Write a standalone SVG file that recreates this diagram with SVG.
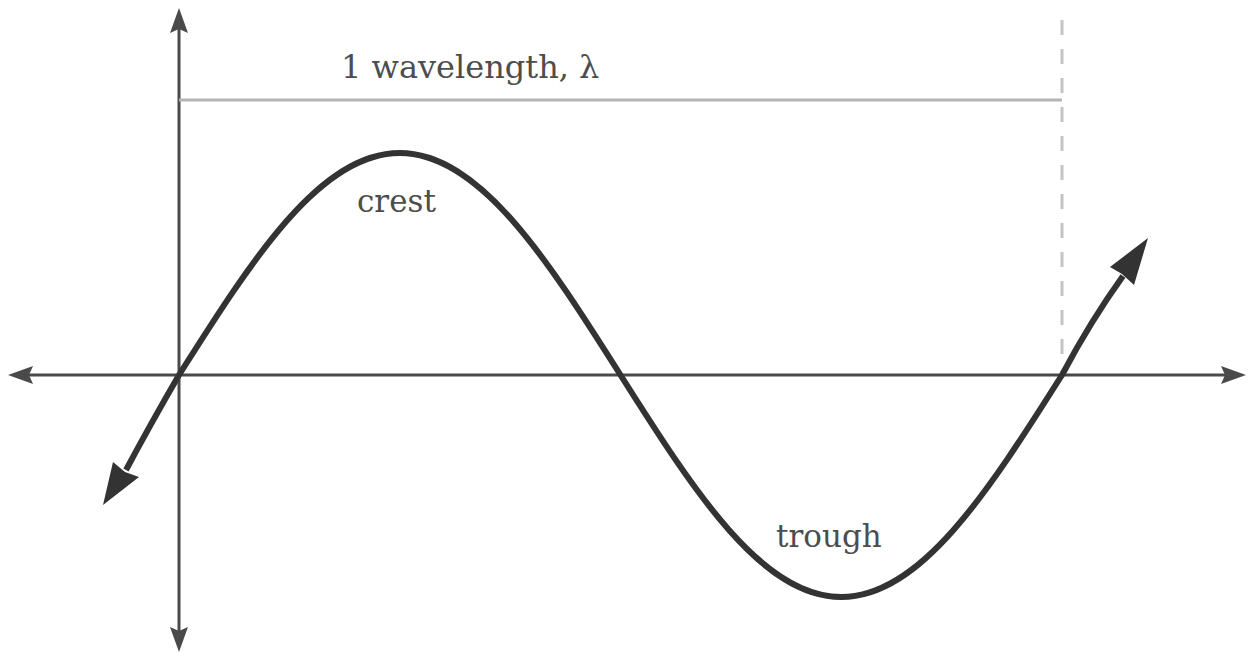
<svg xmlns="http://www.w3.org/2000/svg" width="1249" height="656" viewBox="0 0 1249 656">
<style>
.axis{stroke:#4a4a4a;stroke-width:3;fill:none}
.ah{fill:#4a4a4a}
.wave{stroke:#333;stroke-width:6;fill:none;stroke-linecap:butt}
.wh{fill:#333}
.guide{stroke:#b4b4b4;stroke-width:3;fill:none}
.dash{stroke:#c4c4c4;stroke-width:3;fill:none;stroke-dasharray:15 14}
.lbl{font-family:"DejaVu Serif","Liberation Serif",serif;font-size:31px;fill:#4d4d4d}
</style>
<rect width="1249" height="656" fill="#fff"/>
<g id="connectors">
  <g id="x-axis">
    <line class="axis" x1="26" y1="375" x2="1230" y2="375"/>
    <polygon class="ah" points="8,375 33,366 29,375 33,384"/>
    <polygon class="ah" points="1246,375 1221,366 1225,375 1221,384"/>
  </g>
  <g id="y-axis">
    <line class="axis" x1="179" y1="26" x2="179" y2="636"/>
    <polygon class="ah" points="179,8 170,33 179,29 188,33"/>
    <polygon class="ah" points="179,652 170,627 179,631 188,627"/>
  </g>
  <g id="wavelength-line">
    <line class="guide" x1="179" y1="100" x2="1062" y2="100"/>
    <line class="dash" x1="1062" y1="20" x2="1062" y2="360"/>
  </g>
</g>
<g id="wave">
  <path class="wave" d="M126,470 Q150,425 179,375 C252.8,258.4 320.3,153 399.75,153 C479.2,153 546.7,258.4 620.5,375 C694.3,491.6 761.8,597 841.25,597 C920.7,597 988.2,491.6 1062,375 Q1090,322 1123,276"/>
  <polygon class="wh" points="103,505 113,462 125,472 139,477"/>
  <polygon class="wh" points="1148,238 1110,267 1122,274 1134,285"/>
</g>
<g id="label-wavelength"><text class="lbl" x="341" y="78" style="font-size:32px">1 wavelength, λ</text></g>
<g id="label-crest"><text class="lbl" x="357" y="212">crest</text></g>
<g id="label-trough"><text class="lbl" x="776" y="547">trough</text></g>
</svg>
